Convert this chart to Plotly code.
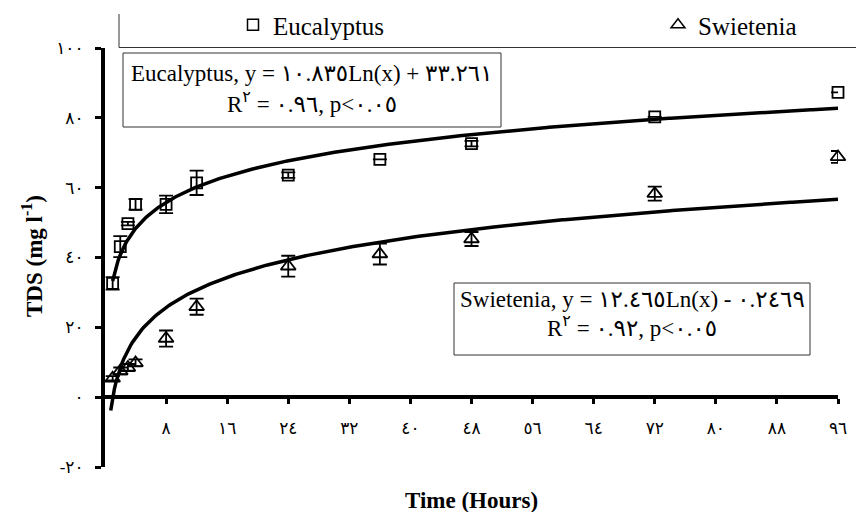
import numpy as np
import plotly.graph_objects as go

# ---------------- data ----------------
hours = [1, 2, 3, 4, 8, 12, 24, 36, 48, 72, 96]
euc_tds = [32.6, 43.1, 49.7, 55.2, 55.2, 61.4, 63.6, 68.1, 72.6, 80.3, 87.3]
euc_err = [1.8, 3.0, 0.5, 1.5, 2.5, 3.5, 0.8, 0.0, 0.8, 0.0, 0.0]
swi_tds = [5.4, 7.5, 8.5, 9.8, 16.8, 25.9, 37.5, 41.0, 45.3, 58.3, 68.8]
swi_err = [0.6, 1.0, 1.0, 1.0, 2.3, 2.3, 3.0, 3.0, 2.0, 2.0, 1.7]

# logarithmic trendline coefficients (slope, intercept) as printed on the chart,
# and the hour at which each drawn trendline starts
euc_fit = (10.835, 33.261)
swi_fit = (12.465, -0.2469)
euc_fit_start = 1.0
swi_fit_start = 0.75
fit_end = 96

x_tick_vals = [8, 16, 24, 32, 40, 48, 56, 64, 72, 80, 88, 96]
x_tick_text = ["٨", "١٦", "٢٤", "٣٢", "٤٠", "٤٨", "٥٦", "٦٤", "٧٢", "٨٠", "٨٨", "٩٦"]
y_tick_vals = [-20, 0, 20, 40, 60, 80, 100]
y_tick_text = ["-٢٠", "٠", "٢٠", "٤٠", "٦٠", "٨٠", "١٠٠"]

LRM = "\u200e"
euc_eq = ["Eucalyptus, y = ١٠.٨٣٥Ln(x) + ٣٣.٢٦١",
          "R<sup>٢</sup>" + LRM + " = ٠.٩٦" + LRM + ", p&lt;٠.٠٥"]
swi_eq = ["Swietenia, y = ١٢.٤٦٥Ln(x) - ٠.٢٤٦٩",
          "R<sup>٢</sup>" + LRM + " = ٠.٩٢" + LRM + ", p&lt;٠.٠٥"]

# ---------------- layout helpers (pixel -> paper) ----------------
X0, X1, Y0, Y1 = 105, 838, 48, 467
W, H = 856, 512


def px(x):
    return (x - X0) / (X1 - X0)


def py(y):
    return (Y1 - y) / (Y1 - Y0)


FONT = "Liberation Serif, Times New Roman, DejaVu Sans, serif"

fig = go.Figure()

# trendlines
for (slope, icpt), x_start in ((euc_fit, euc_fit_start), (swi_fit, swi_fit_start)):
    xfit = np.linspace(x_start, fit_end, 400)
    fig.add_trace(go.Scatter(x=xfit, y=slope * np.log(xfit) + icpt, mode="lines",
                             line=dict(color="black", width=3.5), showlegend=False,
                             hoverinfo="skip"))

# data points with error bars
fig.add_trace(go.Scatter(x=hours, y=euc_tds, mode="markers", name="Eucalyptus",
                         marker=dict(symbol="square-open", size=11, color="black",
                                     line=dict(width=1.8, color="black")),
                         error_y=dict(type="data", array=euc_err, visible=True,
                                      color="black", thickness=1.8, width=7),
                         cliponaxis=False, showlegend=False))
fig.add_trace(go.Scatter(x=hours, y=swi_tds, mode="markers", name="Swietenia",
                         marker=dict(symbol="triangle-up-open", size=13, color="black",
                                     line=dict(width=1.8, color="black")),
                         error_y=dict(type="data", array=swi_err, visible=True,
                                      color="black", thickness=1.8, width=7),
                         cliponaxis=False, showlegend=False))

# legend entries (one legend each, so they sit far apart on one row)
fig.add_trace(go.Scatter(x=[None], y=[None], mode="markers", name="Eucalyptus",
                         legend="legend",
                         marker=dict(symbol="square-open", size=11, color="black",
                                     line=dict(width=1.5, color="black"))))
fig.add_trace(go.Scatter(x=[None], y=[None], mode="markers", name="Swietenia",
                         legend="legend2",
                         marker=dict(symbol="triangle-up-open", size=12, color="black",
                                     line=dict(width=1.5, color="black"))))

shapes = [
    # legend frame (left + bottom edges visible)
    dict(type="line", xref="paper", yref="paper", x0=px(119), x1=px(119), y0=py(47.5), y1=py(14),
         line=dict(color="#333333", width=1)),
    dict(type="line", xref="paper", yref="paper", x0=px(119), x1=px(856), y0=py(47.5), y1=py(47.5),
         line=dict(color="#333333", width=1)),
    # equation boxes
    dict(type="rect", xref="paper", yref="paper", x0=px(123), x1=px(501), y0=py(127), y1=py(53),
         line=dict(color="#333333", width=1), fillcolor="white", layer="below"),
    dict(type="rect", xref="paper", yref="paper", x0=px(454), x1=px(810), y0=py(355), y1=py(283),
         line=dict(color="#333333", width=1), fillcolor="white", layer="below"),
]

annotations = []
for txt, cx, cy in ((euc_eq[0], 312, 74), (euc_eq[1], 312, 102),
                    (swi_eq[0], 632, 299), (swi_eq[1], 632, 326)):
    annotations.append(dict(text=txt, xref="paper", yref="paper", x=px(cx), y=py(cy),
                            xanchor="center", yanchor="middle", showarrow=False,
                            font=dict(family=FONT, size=23, color="black")))

# axis titles
annotations.append(dict(text="<b>Time (Hours)</b>", xref="paper", yref="paper",
                        x=px(471), y=py(500), xanchor="center", yanchor="middle",
                        showarrow=False, font=dict(family=FONT, size=23, color="black")))
annotations.append(dict(text="<b>TDS (mg l<sup>-1</sup>)</b>", xref="paper", yref="paper",
                        x=px(32), y=py(256), xanchor="center", yanchor="middle",
                        textangle=-90, showarrow=False,
                        font=dict(family=FONT, size=23, color="black")))

legend_common = dict(orientation="h", y=py(25), xanchor="left", yanchor="middle",
                     font=dict(family=FONT, size=25, color="black"),
                     bgcolor="rgba(0,0,0,0)", borderwidth=0)

fig.update_layout(
    width=W, height=H,
    margin=dict(l=X0, r=W - X1, t=Y0, b=H - Y1, autoexpand=False),
    paper_bgcolor="white", plot_bgcolor="white",
    font=dict(family=FONT, color="black"),
    shapes=shapes, annotations=annotations,
    showlegend=True,
    legend=dict(x=px(233), **legend_common),
    legend2=dict(x=px(658), **legend_common),
    xaxis=dict(range=[0, 96], anchor="free", position=1 / 6, showline=True,
               linecolor="black", linewidth=3.5, ticks="outside", ticklen=5, tickwidth=3,
               tickcolor="black", tickvals=x_tick_vals, ticktext=x_tick_text,
               tickfont=dict(family=FONT, size=17, color="black"),
               ticklabelstandoff=10, showgrid=False, zeroline=False),
    yaxis=dict(range=[-20, 100], showline=True, linecolor="black", linewidth=4,
               ticks="outside", ticklen=6, tickwidth=3, tickcolor="black",
               tickvals=y_tick_vals, ticktext=y_tick_text,
               tickfont=dict(family=FONT, size=17, color="black"),
               ticklabelstandoff=8, showgrid=False, zeroline=False),
)

fig.write_html("out.html")
